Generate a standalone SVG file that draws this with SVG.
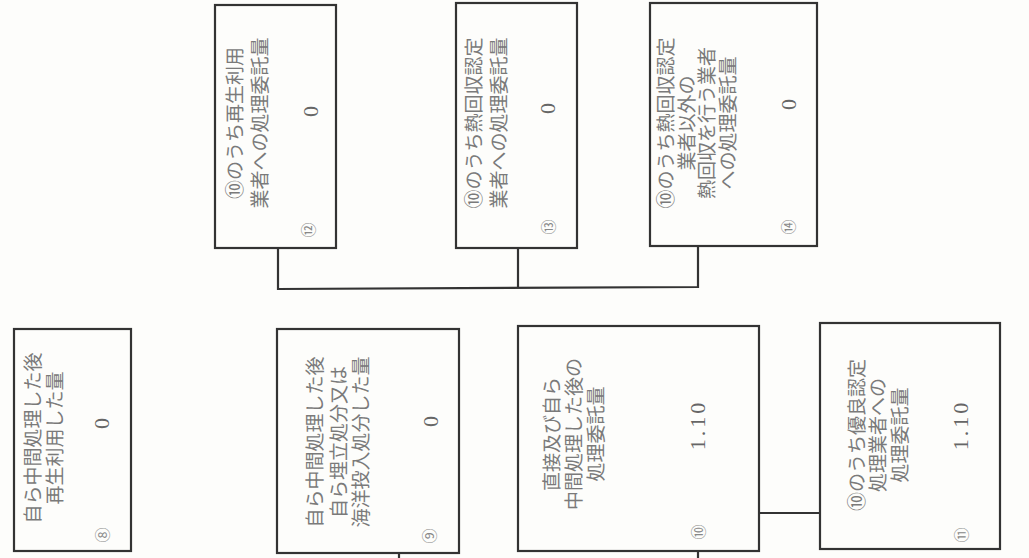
<svg xmlns="http://www.w3.org/2000/svg" width="1029" height="558" viewBox="0 0 1029 558">
<style>
.box{fill:#fdfdfb;stroke:#333;stroke-width:2.2}
.ln{fill:none;stroke:#333;stroke-width:2.2}
.t{font-family:"Noto Sans CJK JP","Noto Sans CJK SC",sans-serif;font-size:19px;fill:#7a7a7a;text-anchor:middle;dominant-baseline:central}
.v{font-family:"Liberation Serif",serif;font-size:22px;fill:#666;text-anchor:middle;dominant-baseline:central;letter-spacing:3px}
.c{font-family:"Noto Sans CJK JP",sans-serif;font-size:15px;fill:#888;text-anchor:middle;dominant-baseline:central}
</style>
<rect width="1029" height="558" fill="#fdfdfb"/>
<g id="connectors">
<polyline class="ln" points="278,249 278,289 698,287 698,246"/>
<line class="ln" x1="518" y1="248" x2="518" y2="288"/>
<line class="ln" x1="759" y1="513" x2="820" y2="513"/>
<line class="ln" x1="399" y1="553" x2="399" y2="558"/>
<line class="ln" x1="698" y1="551" x2="698" y2="558"/>
</g>
<g id="n12">
<rect class="box" x="215" y="5" width="121" height="243"/>
<text class="t" transform="translate(233,123) rotate(-90)">⑩のうち再生利用</text>
<text class="t" transform="translate(258,123) rotate(-90)">業者への処理委託量</text>
<text class="v" transform="translate(310,110) rotate(-90)">0</text>
<text class="c" transform="translate(307,230) rotate(-90)">⑫</text>
</g>
<g id="n13">
<rect class="box" x="456" y="3" width="121" height="245"/>
<text class="t" transform="translate(472,123) rotate(-90)">⑩のうち熱回収認定</text>
<text class="t" transform="translate(497,123) rotate(-90)">業者への処理委託量</text>
<text class="v" transform="translate(547,107) rotate(-90)">0</text>
<text class="c" transform="translate(547,227) rotate(-90)">⑬</text>
</g>
<g id="n14">
<rect class="box" x="650" y="3" width="167" height="243"/>
<text class="t" transform="translate(664,123) rotate(-90)">⑩のうち熱回収認定</text>
<text class="t" transform="translate(685,123) rotate(-90)">業者以外の</text>
<text class="t" transform="translate(705,123) rotate(-90)">熱回収を行う業者</text>
<text class="t" transform="translate(726,123) rotate(-90)">への処理委託量</text>
<text class="v" transform="translate(788,103) rotate(-90)">0</text>
<text class="c" transform="translate(787,227) rotate(-90)">⑭</text>
</g>
<g id="n8">
<rect class="box" x="14" y="329" width="117" height="222"/>
<text class="t" transform="translate(31,438) rotate(-90)">自ら中間処理した後</text>
<text class="t" transform="translate(53,438) rotate(-90)">再生利用した量</text>
<text class="v" transform="translate(101,422) rotate(-90)">0</text>
<text class="c" transform="translate(101,535) rotate(-90)">⑧</text>
</g>
<g id="n9">
<rect class="box" x="277" y="329" width="182" height="224"/>
<text class="t" transform="translate(313,442) rotate(-90)">自ら中間処理した後</text>
<text class="t" transform="translate(337,442) rotate(-90)">自ら埋立処分又は</text>
<text class="t" transform="translate(359,442) rotate(-90)">海洋投入処分した量</text>
<text class="v" transform="translate(430,420) rotate(-90)">0</text>
<text class="c" transform="translate(428,536) rotate(-90)">⑨</text>
</g>
<g id="n10">
<rect class="box" x="518" y="326" width="241" height="225"/>
<text class="t" transform="translate(550,434) rotate(-90)">直接及び自ら</text>
<text class="t" transform="translate(572,434) rotate(-90)">中間処理した後の</text>
<text class="t" transform="translate(594,434) rotate(-90)">処理委託量</text>
<text class="v" transform="translate(697,425) rotate(-90)">1.10</text>
<text class="c" transform="translate(697,532) rotate(-90)">⑩</text>
</g>
<g id="n11">
<rect class="box" x="820" y="323" width="180" height="226"/>
<text class="t" transform="translate(855,435) rotate(-90)">⑩のうち優良認定</text>
<text class="t" transform="translate(876,435) rotate(-90)">処理業者への</text>
<text class="t" transform="translate(898,435) rotate(-90)">処理委託量</text>
<text class="v" transform="translate(960,425) rotate(-90)">1.10</text>
<text class="c" transform="translate(960,535) rotate(-90)">⑪</text>
</g>
</svg>
